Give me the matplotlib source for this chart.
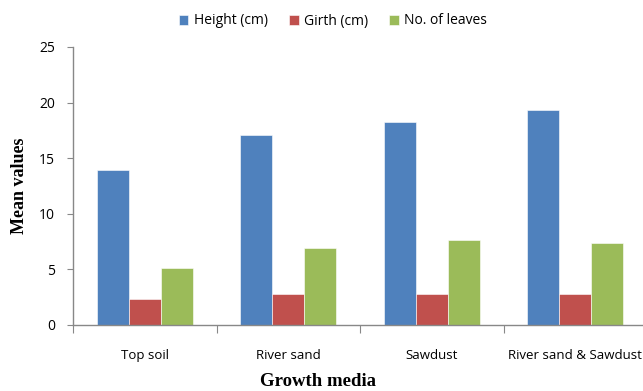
import matplotlib
matplotlib.use("Agg")
import matplotlib.pyplot as plt
import numpy as np

categories = ["Top soil", "River sand", "Sawdust", "River sand & Sawdust"]
height_cm = [13.9, 17.1, 18.3, 19.3]
girth_cm = [2.35, 2.8, 2.8, 2.8]
no_leaves = [5.1, 6.95, 7.65, 7.4]
series_names = ["Height (cm)", "Girth (cm)", "No. of leaves"]
colors = ["#4F81BD", "#C0504D", "#9BBB59"]
yticks = [0, 5, 10, 15, 20, 25]

W, H = 643, 391
fig = plt.figure(figsize=(W / 100, H / 100), dpi=100)
ax = fig.add_axes([73 / W, (H - 325) / H, (647 - 73) / W, (325 - 47) / H])

x = np.arange(len(categories))
bw = 0.223
for i, (vals, name, c) in enumerate(zip([height_cm, girth_cm, no_leaves], series_names, colors)):
    ax.bar(x + (i - 1) * bw, vals, width=bw, color=c, label=name,
           edgecolor="white", linewidth=0.4)

ax.set_xlim(-0.5, 3.5)
ax.set_ylim(0, 25)
ax.set_yticks(yticks)
ax.set_yticklabels([str(v) for v in yticks], fontfamily="Open Sans", fontsize=10)
ax.set_xticks(np.arange(-0.5, 4, 1.0))
ax.set_xticklabels([])
ax.set_xticks(x, minor=True)
ax.set_xticklabels(categories, minor=True, fontfamily="Open Sans", fontsize=9.5)
ax.tick_params(axis="x", which="minor", length=0, pad=17)
ax.tick_params(axis="x", which="major", length=6, direction="out", color="#888888")
ax.tick_params(axis="y", length=4, direction="out", color="#888888", pad=9)

for s in ["top", "right"]:
    ax.spines[s].set_visible(False)
for s in ["left", "bottom"]:
    ax.spines[s].set_color("#888888")
    ax.spines[s].set_linewidth(1.0)

fig.text(20 / W, 1 - 186 / H, "Mean values", rotation=90, ha="center", va="center",
         fontfamily="Liberation Serif", fontweight="bold", fontsize=13)
fig.text(318 / W, 1 - 382 / H, "Growth media", ha="center", va="center",
         fontfamily="Liberation Serif", fontweight="bold", fontsize=13.5)

leg = fig.legend(loc="center", bbox_to_anchor=(333 / W, 1 - 21 / H), ncol=3, frameon=False,
                 prop={"family": "Open Sans", "size": 10}, handlelength=0.7, handleheight=0.7,
                 handletextpad=0.4, columnspacing=1.5)

fig.savefig("out.png", dpi=100)
